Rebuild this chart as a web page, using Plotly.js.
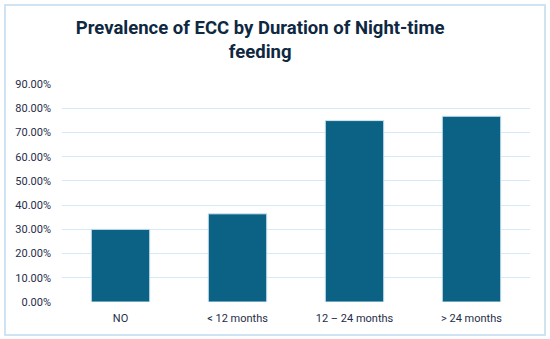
<!DOCTYPE html>
<html><head><meta charset="utf-8">
<script src="https://cdn.plot.ly/plotly-3.0.1.min.js"></script>
<style>html,body{margin:0;padding:0;background:#fff}#c{width:550px;height:339px}</style>
</head><body><div id="c"></div>
<script>
const categories = ["NO", "< 12 months", "12 – 24 months", "> 24 months"];
const prevalence = [0.30, 0.364, 0.749, 0.767];
const yTicks = [0, 0.1, 0.2, 0.3, 0.4, 0.5, 0.6, 0.7, 0.8, 0.9];

const trace = {
  type: "bar",
  x: categories,
  y: prevalence,
  marker: {color: "#0b6284", line: {color: "#cfe6f2", width: 1}},
  hoverinfo: "x+y"
};
const layout = {
  width: 550, height: 339,
  margin: {l: 62, r: 20, t: 84, b: 37},
  paper_bgcolor: "#fff", plot_bgcolor: "#fff",
  bargap: 0.5,
  showlegend: false,
  title: {
    text: "Prevalence of ECC by Duration of Night-time<br>feeding",
    font: {family: "Roboto, 'Open Sans', sans-serif", size: 18.5, color: "#0e2841", weight: "bold", lineposition: "none"},
    x: 0.473, xanchor: "center", xref: "container", yref: "container", y: 0.9, yanchor: "middle"
  },
  xaxis: {
    type: "category",
    tickfont: {family: "Roboto, 'Open Sans', sans-serif", size: 11, color: "#1f2d4a"},
    showgrid: false, zeroline: false, showline: false, ticks: "", ticklabelstandoff: 8
  },
  yaxis: {
    range: [0, 0.9],
    tickvals: yTicks,
    tickformat: ".2%",
    tickfont: {family: "Roboto, 'Open Sans', sans-serif", size: 11, color: "#1f2d4a"},
    gridcolor: "#d6e9f7", gridwidth: 1.2,
    zeroline: false, showline: false, ticks: "", ticklabelstandoff: 10
  },
  shapes: [{
    type: "rect", xref: "paper", yref: "paper",
    x0: -0.1218, x1: 1.032, y0: -0.151, y1: 1.362,
    line: {color: "#cfe3f2", width: 2}, fillcolor: "rgba(0,0,0,0)", layer: "below"
  }]
};
Plotly.newPlot("c", [trace], layout, {displayModeBar: false, staticPlot: true});
</script></body></html>
